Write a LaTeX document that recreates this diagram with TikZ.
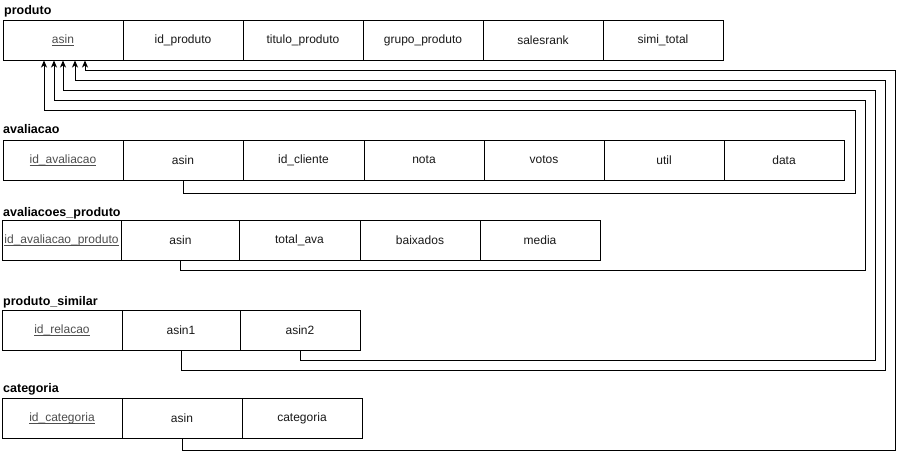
\documentclass[tikz,border=0pt]{standalone}
\usepackage{fontspec}
\setmainfont{Liberation Sans}
\usetikzlibrary{arrows.meta,calc}
\definecolor{pkgray}{HTML}{4D4D4D}
\tikzset{
  cell/.style={draw=black, line width=1pt, minimum height=40pt, inner sep=0pt,
    font=\fontsize{12}{14}\selectfont, text=black!90},
  title/.style={anchor=base west, inner sep=0pt, font=\fontsize{12.5}{14}\selectfont\bfseries},
  fk/.style={draw=black, line width=1pt, -{Stealth[length=7pt,width=6pt,inset=2pt]}},
}
\newsavebox{\pkbox}
\newcommand{\pk}[1]{\textcolor{pkgray}{\sbox{\pkbox}{#1}\rlap{\rule[-2.2pt]{\wd\pkbox}{0.7pt}}\usebox{\pkbox}}}
\begin{document}
\begin{tikzpicture}[x=1pt,y=-1pt]
\useasboundingbox[fill=white] (0,0) rectangle (903,459);
% produto
\node[title] (tp) at (4,14) {produto};
\node[cell, minimum width=120pt] (p1) at (63,40) {\pk{asin}};
\node[cell, minimum width=120pt] (p2) at (183,40) {id\_produto};
\node[cell, minimum width=120pt] (p3) at (303,40) {titulo\_produto};
\node[cell, minimum width=120pt] (p4) at (423,40) {grupo\_produto};
\node[cell, minimum width=120pt] (p5) at (543,40) {salesrank};
\node[cell, minimum width=120pt] (p6) at (663,40) {simi\_total};
% avaliacao
\node[title] (ta) at (3,133) {avaliacao};
\node[cell, minimum width=120pt] (a1) at (63,160) {\pk{id\_avaliacao}};
\node[cell, minimum width=120pt] (a2) at (183,160) {asin};
\node[cell, minimum width=121pt] (a3) at (303.5,160) {id\_cliente};
\node[cell, minimum width=120pt] (a4) at (424,160) {nota};
\node[cell, minimum width=120pt] (a5) at (544,160) {votos};
\node[cell, minimum width=120pt] (a6) at (664,160) {util};
\node[cell, minimum width=120pt] (a7) at (784,160) {data};
% avaliacoes_produto
\node[title] (tap) at (3,216) {avaliacoes\_produto};
\node[cell, minimum width=119pt] (ap1) at (61.5,240) {\pk{id\_avaliacao\_produto}};
\node[cell, minimum width=118pt] (ap2) at (180.5,240) {asin};
\node[cell, minimum width=121pt] (ap3) at (299.5,240) {total\_ava};
\node[cell, minimum width=120pt] (ap4) at (420,240) {baixados};
\node[cell, minimum width=120pt] (ap5) at (540,240) {media};
% produto_similar
\node[title] (tps) at (3,305) {produto\_similar};
\node[cell, minimum width=120pt] (ps1) at (62,330) {\pk{id\_relacao}};
\node[cell, minimum width=118pt] (ps2) at (181,330) {asin1};
\node[cell, minimum width=120pt] (ps3) at (300,330) {asin2};
% categoria
\node[title] (tc) at (3,392) {categoria};
\node[cell, minimum width=120pt] (c1) at (62,418) {\pk{id\_categoria}};
\node[cell, minimum width=120pt] (c2) at (182,418) {asin};
\node[cell, minimum width=120pt] (c3) at (302,418) {categoria};
% connectors
\draw[fk] (a2.south) |- (855,193) |- (44,110) -- ([xshift=-19pt]p1.south);
\draw[fk] (ap2.south) |- (865,270) |- (54,100) -- ([xshift=-9pt]p1.south);
\draw[fk] (ps3.south) |- (875,360) |- (63,90) -- (p1.south);
\draw[fk] (ps2.south) |- (885,370) |- (75,80) -- ([xshift=12pt]p1.south);
\draw[fk] (c2.south) |- (895,450) |- (85,70) -- ([xshift=22pt]p1.south);
\end{tikzpicture}
\end{document}
